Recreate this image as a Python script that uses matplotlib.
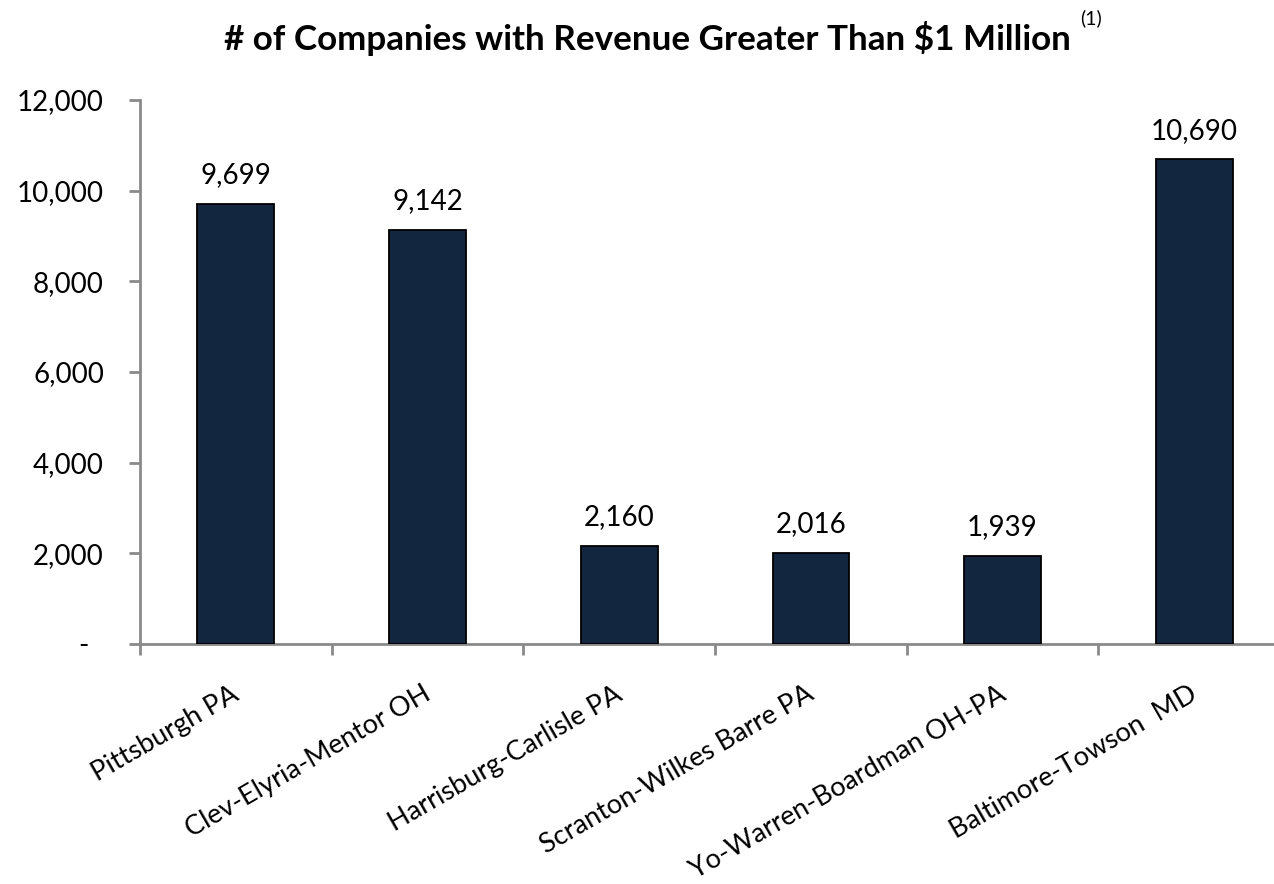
import matplotlib
matplotlib.use("Agg")
import matplotlib.pyplot as plt
from matplotlib.ticker import FixedLocator, FixedFormatter
from matplotlib.transforms import ScaledTranslation

plt.rcParams['font.family'] = ['Lato', 'DejaVu Sans']

# Data
regions = ["Pittsburgh PA", "Clev-Elyria-Mentor OH", "Harrisburg-Carlisle PA",
           "Scranton-Wilkes Barre PA", "Yo-Warren-Boardman OH-PA", "Baltimore-Towson  MD"]
companies = [9699, 9142, 2160, 2016, 1939, 10690]
y_ticks = [0, 2000, 4000, 6000, 8000, 10000, 12000]
y_tick_labels = ["-  ", "2,000", "4,000", "6,000", "8,000", "10,000", "12,000"]
title = "# of Companies with Revenue Greater Than $1 Million"
footnote = "(1)"

W, H = 1274, 884
fig = plt.figure(figsize=(W / 100, H / 100), dpi=100)
ax = fig.add_axes([140 / W, (H - 644) / H, 1150 / W, 544 / H])

bar_color = "#13263f"
axis_gray = "#8a8a8a"

x = list(range(len(regions)))
ax.bar(x, companies, width=0.4, color=bar_color, edgecolor="black", linewidth=1.3, zorder=3)

ax.set_xlim(-0.5, len(regions) - 0.5)
ax.set_ylim(0, 12000)

# Value labels above each bar
for xi, v in zip(x, companies):
    ax.annotate(f"{v:,}", (xi, v), xytext=(0, 15), textcoords="offset points",
                ha="center", va="baseline", fontsize=20, color="black")

# Axes styling
for side in ("top", "right"):
    ax.spines[side].set_visible(False)
for side in ("left", "bottom"):
    ax.spines[side].set_color(axis_gray)
    ax.spines[side].set_linewidth(2)

ax.yaxis.set_major_locator(FixedLocator(y_ticks))
ax.yaxis.set_major_formatter(FixedFormatter(y_tick_labels))
ax.tick_params(axis="y", direction="out", length=8, width=2, color=axis_gray,
               labelsize=20, pad=18)

# Category ticks sit on the boundaries between groups
ax.set_xticks([i - 0.5 for i in range(len(regions) + 1)], minor=False)
ax.set_xticklabels([])
ax.tick_params(axis="x", which="major", direction="out", length=8, width=2, color=axis_gray)
ax.set_xticks(x, minor=True)
ax.set_xticklabels(regions, minor=True, rotation=30, ha="right", va="top",
                   rotation_mode="anchor", fontsize=19.5)
ax.tick_params(axis="x", which="minor", length=0, pad=27)
shift = ScaledTranslation(-5 / 100, 0, fig.dpi_scale_trans)
for lbl in ax.get_xticklabels(minor=True):
    lbl.set_transform(lbl.get_transform() + shift)

# Title with superscript footnote marker
fig.text(647 / W, 1 - 50 / H, title, ha="center", va="baseline",
         fontsize=25.2, fontweight="bold", color="black")
fig.text(1080 / W, 1 - 24 / H, footnote, ha="left", va="baseline",
         fontsize=14, color="black")

fig.savefig("out.png", dpi=100)
